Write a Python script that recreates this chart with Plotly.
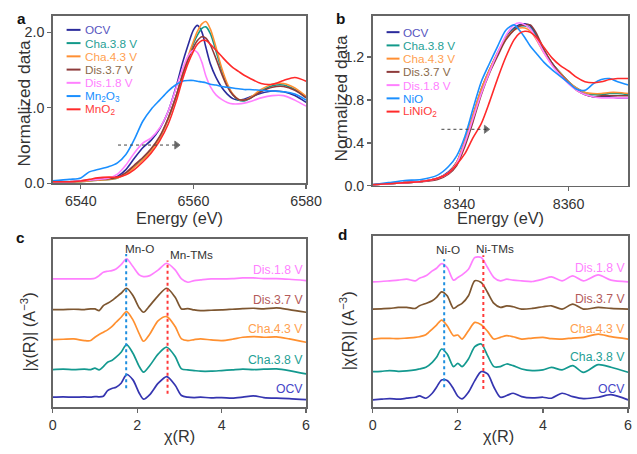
import plotly.graph_objects as go

# ---------------- DATA ----------------
# Panel a: Mn K-edge XANES
E_a = [6535, 6538, 6540, 6541.5, 6543, 6545, 6546.5, 6548, 6549.5, 6551, 6552.5, 6554, 6555.5,
       6557, 6558, 6559, 6560, 6560.7, 6561.5, 6562.2, 6563, 6564, 6565, 6566, 6567, 6568,
       6569, 6570, 6572, 6574, 6576, 6578, 6580]
a_ocv = [0.02, 0.02, 0.03, 0.04, 0.05, 0.06, 0.09, 0.18, 0.33, 0.47, 0.57, 0.72, 0.95, 1.30, 1.58, 1.82,
         2.03, 2.09, 2.00, 1.80, 1.58, 1.40, 1.27, 1.18, 1.12, 1.10, 1.11, 1.14, 1.19, 1.22, 1.21, 1.16, 1.07]
a_cha38 = [0.02, 0.02, 0.02, 0.03, 0.04, 0.05, 0.07, 0.13, 0.22, 0.32, 0.44, 0.60, 0.85, 1.17, 1.42, 1.65,
           1.85, 1.96, 2.05, 2.07, 1.98, 1.75, 1.50, 1.30, 1.17, 1.10, 1.09, 1.12, 1.22, 1.29, 1.30, 1.24, 1.14]
a_cha43 = [0.02, 0.02, 0.02, 0.03, 0.04, 0.05, 0.07, 0.12, 0.21, 0.31, 0.43, 0.60, 0.85, 1.17, 1.43, 1.67,
           1.88, 2.01, 2.11, 2.14, 2.04, 1.80, 1.53, 1.32, 1.18, 1.11, 1.10, 1.13, 1.24, 1.31, 1.32, 1.26, 1.15]
a_dis37 = [0.02, 0.02, 0.03, 0.04, 0.05, 0.06, 0.08, 0.14, 0.24, 0.34, 0.46, 0.62, 0.86, 1.17, 1.42, 1.63,
           1.80, 1.89, 1.94, 1.92, 1.83, 1.65, 1.45, 1.28, 1.17, 1.11, 1.10, 1.12, 1.21, 1.27, 1.28, 1.23, 1.13]
a_dis18 = [0.02, 0.02, 0.03, 0.04, 0.05, 0.07, 0.12, 0.24, 0.40, 0.53, 0.60, 0.73, 0.95, 1.28, 1.50, 1.68,
           1.76, 1.73, 1.60, 1.42, 1.28, 1.17, 1.11, 1.07, 1.05, 1.05, 1.06, 1.08, 1.13, 1.16, 1.16, 1.10, 1.02]
a_mn2o3 = [0.03, 0.05, 0.07, 0.15, 0.18, 0.22, 0.27, 0.38, 0.58, 0.82, 0.98, 1.10, 1.22, 1.31, 1.35, 1.36,
           1.36, 1.35, 1.34, 1.33, 1.31, 1.30, 1.28, 1.27, 1.26, 1.25, 1.24, 1.24, 1.23, 1.22, 1.21, 1.18, 1.10]
a_mno2 = [0.02, 0.02, 0.03, 0.05, 0.07, 0.08, 0.08, 0.11, 0.18, 0.28, 0.40, 0.56, 0.78, 1.10, 1.36, 1.58,
          1.75, 1.84, 1.89, 1.89, 1.84, 1.76, 1.68, 1.60, 1.53, 1.48, 1.43, 1.39, 1.32, 1.31, 1.36, 1.40, 1.35]
arrow_a_x = [6546.6, 6557.0]
arrow_a_y = [0.505, 0.505]

# Panel b: Ni K-edge XANES
E_b = [8324, 8327, 8330, 8333, 8336, 8338, 8339.5, 8341, 8342.5, 8344, 8345.5, 8347, 8348.5, 8350,
       8351, 8352, 8353, 8354, 8355.5, 8357, 8358.5, 8360, 8361.5, 8363, 8364.5, 8366, 8367.5, 8369, 8371]
b_ocv = [0.01, 0.02, 0.03, 0.04, 0.07, 0.13, 0.22, 0.42, 0.66, 0.90, 1.08, 1.24, 1.38, 1.47, 1.50, 1.51,
         1.49, 1.41, 1.26, 1.14, 1.05, 0.97, 0.90, 0.85, 0.83, 0.83, 0.83, 0.82, 0.82]
b_cha38 = [0.01, 0.02, 0.03, 0.04, 0.07, 0.12, 0.21, 0.40, 0.64, 0.88, 1.07, 1.23, 1.37, 1.46, 1.49, 1.49,
           1.47, 1.40, 1.26, 1.14, 1.05, 0.97, 0.91, 0.87, 0.85, 0.85, 0.86, 0.86, 0.85]
b_cha43 = [0.01, 0.02, 0.03, 0.04, 0.07, 0.12, 0.22, 0.42, 0.66, 0.90, 1.08, 1.24, 1.37, 1.45, 1.47, 1.47,
           1.44, 1.37, 1.24, 1.13, 1.05, 0.97, 0.91, 0.87, 0.86, 0.86, 0.87, 0.87, 0.86]
b_dis37 = [0.01, 0.02, 0.03, 0.04, 0.06, 0.11, 0.19, 0.37, 0.60, 0.85, 1.05, 1.21, 1.36, 1.45, 1.49, 1.50,
           1.50, 1.43, 1.27, 1.14, 1.04, 0.96, 0.89, 0.85, 0.83, 0.84, 0.84, 0.84, 0.84]
b_dis18 = [0.01, 0.02, 0.03, 0.04, 0.07, 0.12, 0.21, 0.40, 0.63, 0.86, 1.06, 1.24, 1.40, 1.50, 1.52, 1.50,
           1.46, 1.38, 1.24, 1.12, 1.03, 0.95, 0.89, 0.85, 0.83, 0.82, 0.82, 0.82, 0.82]
b_nio = [0.01, 0.03, 0.05, 0.06, 0.10, 0.18, 0.28, 0.46, 0.72, 0.97, 1.14, 1.30, 1.45, 1.50, 1.45, 1.38,
         1.30, 1.24, 1.15, 1.08, 1.02, 0.96, 0.90, 0.89, 0.95, 0.99, 1.00, 0.97, 0.94]
b_linio2 = [0.01, 0.02, 0.03, 0.04, 0.07, 0.12, 0.20, 0.30, 0.45, 0.58, 0.78, 1.00, 1.20, 1.36, 1.42, 1.44,
            1.43, 1.39, 1.29, 1.19, 1.12, 1.07, 1.01, 0.97, 0.96, 0.97, 0.99, 1.00, 1.00]
arrow_b_x = [8336.7, 8344.9]
arrow_b_y = [0.527, 0.527]

# Panel c: Mn EXAFS (offset curves)
R_c = [0, 0.25, 0.5, 0.75, 0.9, 1.0, 1.1, 1.2, 1.3, 1.4, 1.5, 1.62, 1.75, 1.9, 2.05, 2.15, 2.3, 2.5, 2.7,
       2.9, 3.05, 3.2, 3.35, 3.5, 3.75, 4.0, 4.25, 4.5, 4.75, 5.0, 5.3, 5.6, 6.0]
c_ocv = [0.30, 0.31, 0.30, 0.31, 0.30, 0.32, 0.31, 0.33, 0.50, 0.56, 0.60, 0.72, 0.98, 0.82, 0.42, 0.24, 0.38,
         0.72, 0.92, 0.66, 0.35, 0.30, 0.29, 0.30, 0.28, 0.29, 0.27, 0.30, 0.34, 0.29, 0.27, 0.26, 0.23]
c_cha38 = [1.13, 1.14, 1.13, 1.14, 1.13, 1.17, 1.12, 1.22, 1.35, 1.40, 1.50, 1.65, 1.88, 1.62, 1.22, 1.05, 1.25,
           1.60, 1.80, 1.52, 1.15, 1.12, 1.10, 1.08, 1.08, 1.10, 1.12, 1.14, 1.13, 1.14, 1.15, 1.10, 1.00]
c_cha43 = [2.03, 2.04, 2.05, 2.00, 2.00, 2.10, 2.18, 2.25, 2.32, 2.42, 2.55, 2.70, 2.87, 2.62, 2.20, 1.98, 2.20,
           2.60, 2.72, 2.42, 2.05, 2.00, 2.03, 2.05, 2.02, 2.00, 2.04, 2.10, 2.12, 2.10, 2.11, 2.05, 1.95]
c_dis37 = [2.93, 2.93, 2.94, 2.93, 2.95, 2.95, 2.90, 3.05, 3.12, 3.20, 3.30, 3.42, 3.57, 3.35, 2.98, 2.85, 3.05,
           3.35, 3.57, 3.30, 2.95, 2.96, 2.92, 2.90, 2.91, 2.92, 2.94, 2.96, 2.97, 2.95, 2.98, 2.93, 2.85]
c_dis18 = [3.85, 3.85, 3.85, 3.85, 3.85, 3.87, 3.95, 4.05, 4.08, 4.10, 4.15, 4.28, 4.45, 4.22, 3.97, 3.92, 3.95,
           4.12, 4.32, 4.12, 3.85, 3.75, 3.80, 3.82, 3.85, 3.85, 3.86, 3.88, 3.88, 3.86, 3.86, 3.84, 3.80]
c_mno_x = [1.74, 1.74]
c_mno_y = [0.57, 4.60]
c_mntm_x = [2.72, 2.72]
c_mntm_y = [0.40, 4.40]

# Panel d: Ni EXAFS (offset curves)
R_d = [0, 0.2, 0.4, 0.6, 0.8, 1.0, 1.1, 1.25, 1.4, 1.5, 1.62, 1.75, 1.9, 2.0, 2.1, 2.25, 2.4, 2.55, 2.7,
       2.85, 3.0, 3.15, 3.3, 3.5, 3.75, 4.0, 4.2, 4.45, 4.7, 4.95, 5.3, 5.6, 6.0]
d_ocv = [0.22, 0.24, 0.26, 0.24, 0.27, 0.30, 0.34, 0.27, 0.42, 0.60, 0.82, 0.80, 0.55, 0.33, 0.25, 0.45, 0.80,
         1.07, 1.00, 0.60, 0.30, 0.35, 0.42, 0.32, 0.28, 0.30, 0.27, 0.42, 0.32, 0.26, 0.30, 0.38, 0.22]
d_cha38 = [1.07, 1.08, 1.10, 1.08, 1.09, 1.12, 1.15, 1.20, 1.35, 1.50, 1.75, 1.60, 1.22, 1.32, 1.22, 1.45, 1.82,
           1.90, 1.55, 1.22, 1.22, 1.30, 1.25, 1.15, 1.10, 1.12, 1.20, 1.12, 1.25, 1.05, 1.28, 1.20, 1.05]
d_cha43 = [2.05, 2.07, 2.07, 2.06, 2.08, 2.10, 2.12, 2.18, 2.35, 2.47, 2.62, 2.45, 2.15, 2.17, 2.05, 2.30, 2.55,
           2.48, 2.28, 2.05, 2.10, 2.15, 2.12, 2.05, 2.08, 2.10, 2.06, 2.05, 2.08, 2.10, 2.20, 2.12, 2.05]
d_dis37 = [2.95, 2.96, 2.97, 3.00, 3.00, 2.97, 3.05, 3.12, 3.20, 3.30, 3.47, 3.35, 2.97, 3.05, 3.12, 3.35, 3.80,
           3.75, 3.45, 3.12, 3.00, 3.05, 3.02, 2.95, 2.97, 3.02, 3.05, 2.95, 3.10, 2.95, 3.00, 2.97, 2.95]
d_dis18 = [3.77, 3.78, 3.80, 3.82, 3.85, 3.80, 3.88, 3.95, 4.10, 4.18, 4.32, 4.20, 3.82, 3.90, 3.98, 4.15, 4.50,
           4.50, 4.20, 3.90, 3.80, 3.85, 3.82, 3.80, 3.78, 3.85, 3.92, 3.80, 3.95, 3.80, 3.98, 3.82, 3.77]
d_nio_x = [1.68, 1.68]
d_nio_y = [0.60, 4.45]
d_nitm_x = [2.60, 2.60]
d_nitm_y = [0.55, 4.57]

labels_top = ["OCV", "Cha.3.8 V", "Cha.4.3 V", "Dis.3.7 V", "Dis.1.8 V"]
ref_a = ["Mn<sub>2</sub>O<sub>3</sub>", "MnO<sub>2</sub>"]
ref_b = ["NiO", "LiNiO<sub>2</sub>"]
label_y_c = [0.55, 1.42, 2.35, 3.23, 4.12]
label_y_d = [0.55, 1.50, 2.35, 3.25, 4.20]

# ---------------- STYLE ----------------
REF_W, REF_H = 637, 454          # reference layout frame (positions are fractions of it)
W, H = 653, 460                  # rendered page area observed in the screenshots
FS = 1.02                        # font compensation for the page->picture scaling
FONT = "Arial, Liberation Sans, sans-serif"
line_cols_top = ["#2b2b9c", "#12998a", "#ff8f33", "#8e3b3b", "#ff80ff"]
text_cols_top = ["#5555c0", "#1fa095", "#ff9f50", "#8a6a4c", "#ff80ff"]
ref_line_cols = ["#1a8fff", "#ff2a2a"]
ref_text_cols = ["#2090ff", "#ff3b3b"]
line_cols_bot = ["#3535b0", "#13998f", "#ff9030", "#7d5630", "#ff80ff"]
text_cols_bot = ["#4545c8", "#1fa095", "#ff9f50", "#b45a5a", "#ff80ff"]


def px(x):
    return x / REF_W


def py(y):
    return 1 - y / REF_H


def fs(s):
    return round(s * FS, 2)


fig = go.Figure()


def add_line(x, y, color, xa, ya, width=1.6):
    fig.add_trace(go.Scatter(x=x, y=y, mode="lines", xaxis=xa, yaxis=ya, showlegend=False,
                             line=dict(color=color, width=width, shape="spline", smoothing=0.8),
                             hoverinfo="skip"))

for ys, c in zip([a_ocv, a_cha38, a_cha43, a_dis37, a_dis18], line_cols_top):
    add_line(E_a, ys, c, "x", "y")
add_line(E_a, a_mn2o3, ref_line_cols[0], "x", "y")
add_line(E_a, a_mno2, ref_line_cols[1], "x", "y")
for ys, c in zip([b_ocv, b_cha38, b_cha43, b_dis37, b_dis18], line_cols_top):
    add_line(E_b, ys, c, "x2", "y2")
add_line(E_b, b_nio, ref_line_cols[0], "x2", "y2")
add_line(E_b, b_linio2, ref_line_cols[1], "x2", "y2")
for ys, c in zip([c_ocv, c_cha38, c_cha43, c_dis37, c_dis18], line_cols_bot):
    add_line(R_c, ys, c, "x3", "y3", 1.7)
for ys, c in zip([d_ocv, d_cha38, d_cha43, d_dis37, d_dis18], line_cols_bot):
    add_line(R_d, ys, c, "x4", "y4", 1.7)

for xs, ys, c, xa, ya in [(c_mno_x, c_mno_y, "#1f8fe0", "x3", "y3"), (c_mntm_x, c_mntm_y, "#ff3a3a", "x3", "y3"),
                          (d_nio_x, d_nio_y, "#1f8fe0", "x4", "y4"), (d_nitm_x, d_nitm_y, "#ff3a3a", "x4", "y4")]:
    fig.add_trace(go.Scatter(x=xs, y=ys, mode="lines", xaxis=xa, yaxis=ya, showlegend=False,
                             line=dict(color=c, width=2, dash="dot"), hoverinfo="skip"))

for xs, ys, xa, ya in [(arrow_a_x, arrow_a_y, "x", "y"), (arrow_b_x, arrow_b_y, "x2", "y2")]:
    fig.add_trace(go.Scatter(x=xs, y=ys, mode="lines+markers", xaxis=xa, yaxis=ya, showlegend=False,
                             line=dict(color="#444", width=1, dash="dot"),
                             marker=dict(symbol="triangle-right", size=[0, 7], color="#222"),
                             hoverinfo="skip"))

annotations = []
shapes = []


def legend(x_line0, x_line1, x_text, y0, names, lcols, tcols):
    for i, (n, lc, tc) in enumerate(zip(names, lcols, tcols)):
        yy = y0 + i * 13.3
        shapes.append(dict(type="line", xref="paper", yref="paper", x0=px(x_line0), x1=px(x_line1),
                           y0=py(yy), y1=py(yy), line=dict(color=lc, width=2)))
        annotations.append(dict(xref="paper", yref="paper", x=px(x_text), y=py(yy), text=n,
                                showarrow=False, xanchor="left", yanchor="middle",
                                font=dict(size=fs(11.5), color=tc, family=FONT)))

legend(63, 77, 79, 30, labels_top + ref_a, line_cols_top + ref_line_cols, text_cols_top + ref_text_cols)
legend(385, 398, 400, 32.3, labels_top + ref_b, line_cols_top + ref_line_cols, text_cols_top + ref_text_cols)

for n, yv, tc in zip(labels_top, label_y_c, text_cols_bot):
    annotations.append(dict(xref="x3", yref="y3", x=5.98, y=yv, text=n, showarrow=False,
                            xanchor="right", yanchor="middle", font=dict(size=fs(12), color=tc, family=FONT)))
for n, yv, tc in zip(labels_top, label_y_d, text_cols_bot):
    annotations.append(dict(xref="x4", yref="y4", x=5.98, y=yv, text=n, showarrow=False,
                            xanchor="right", yanchor="middle", font=dict(size=fs(12), color=tc, family=FONT)))

for t, x, y, xa, ya in [("Mn-O", 2.06, 4.77, "x3", "y3"), ("Mn-TMs", 3.28, 4.57, "x3", "y3"),
                        ("Ni-O", 1.76, 4.73, "x4", "y4"), ("Ni-TMs", 2.87, 4.77, "x4", "y4")]:
    annotations.append(dict(xref=xa, yref=ya, x=x, y=y, text=t, showarrow=False,
                            xanchor="center", yanchor="middle",
                            font=dict(size=fs(11.5), color="#333", family=FONT)))


def txt(x, y, t, size, angle=0, bold=False):
    annotations.append(dict(xref="paper", yref="paper", x=px(x), y=py(y), text=("<b>%s</b>" % t) if bold else t,
                            showarrow=False, xanchor="center", yanchor="middle", textangle=angle,
                            font=dict(size=fs(size), color="#333" if not bold else "#111", family=FONT)))

txt(177, 219, "Energy (eV)", 16)
txt(500, 219, "Energy (eV)", 16)
txt(20, 103, "Normalized data", 17, -90)
txt(339, 98, "Normalized data", 17, -90)
txt(177, 438, "χ(R)", 16)
txt(498, 438, "χ(R)", 16)
txt(24, 333, "|χ(R)| (A<sup>−3</sup>)", 16, -90)
txt(345, 332, "|χ(R)| (A<sup>−3</sup>)", 16, -90)
txt(18, 19, "a", 15, bold=True)
txt(339, 19, "b", 15, bold=True)
txt(17, 239, "c", 15, bold=True)
txt(341, 236, "d", 15, bold=True)


def ax(domain, rng, anchor, **kw):
    d = dict(domain=domain, range=rng, anchor=anchor, showline=True, mirror=True, linecolor="#666",
             linewidth=1.5, ticks="outside", ticklen=4, tickwidth=1.2, tickcolor="#666",
             showgrid=False, zeroline=False,
             tickfont=dict(size=fs(14), color="#333", family=FONT))
    d.update(kw)
    return d

xa_dom = [px(49), px(304)]
xb_dom = [px(371), px(628)]

fig.update_layout(
    width=W, height=H, autosize=False, margin=dict(l=0, r=0, t=0, b=0, pad=0),
    paper_bgcolor="white", plot_bgcolor="white", showlegend=False,
    xaxis=ax(xa_dom, [6535, 6580], "y", tick0=6540, dtick=20),
    yaxis=ax([py(184), py(16)], [0, 2.215], "x", dtick=1, tickformat=".1f"),
    xaxis2=ax(xb_dom, [8324.1, 8370.9], "y2", tick0=8340, dtick=20),
    yaxis2=ax([py(186.7), py(16)], [0, 1.583], "x2", dtick=0.4, tickformat=".1f"),
    xaxis3=ax(xa_dom, [0, 6], "y3", dtick=2),
    yaxis3=ax([py(409), py(240)], [0, 5.05], "x3", showticklabels=False, ticks=""),
    xaxis4=ax(xb_dom, [0, 6], "y4", dtick=2),
    yaxis4=ax([py(409), py(237)], [0, 5.15], "x4", showticklabels=False, ticks=""),
    annotations=annotations, shapes=shapes,
)

page_fix = ("document.documentElement.style.margin='0';document.body.style.margin='0';"
            "document.documentElement.style.overflow='hidden';document.body.style.overflow='hidden';")
fig.write_html("out.html", post_script=page_fix,
               config={"responsive": False, "displayModeBar": False, "staticPlot": True})
